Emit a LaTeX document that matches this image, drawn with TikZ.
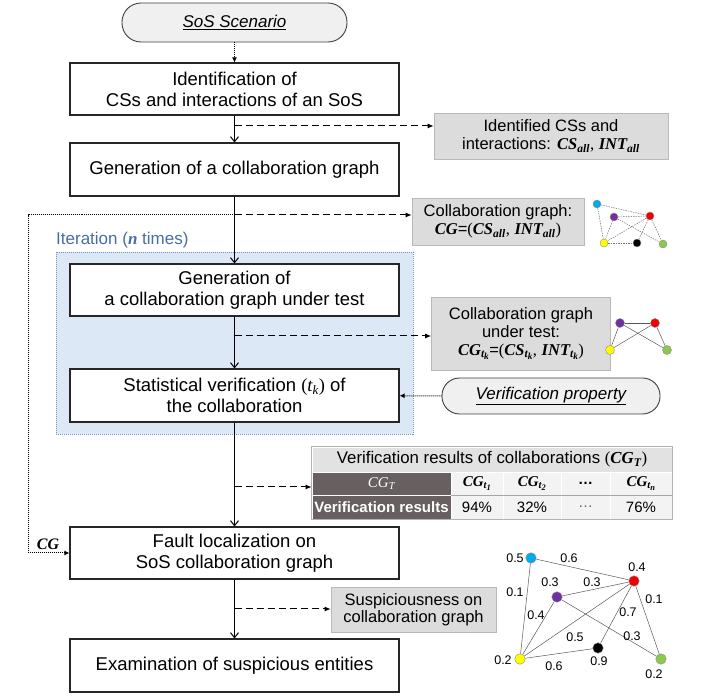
\documentclass[tikz,border=0pt]{standalone}
\usepackage{fontspec}
\usepackage{graphicx}
\setmainfont{Liberation Sans}
\newfontfamily\varfont{Liberation Serif}
\newcommand{\bv}[2]{{\varfont\bfseries\itshape #1\textsubscript{#2}}}
\newcommand{\iv}[2]{{\varfont\itshape #1\textsubscript{#2}}}
\newcommand{\ssub}[1]{\raisebox{-0.4ex}{\scalebox{0.8}{#1}}}
\usetikzlibrary{arrows.meta,calc}
\definecolor{regfill}{RGB}{221,232,246}
\definecolor{regdraw}{RGB}{110,150,205}
\definecolor{itercol}{RGB}{70,110,165}
\definecolor{boxfill}{RGB}{220,220,220}
\definecolor{boxdraw}{RGB}{185,185,185}
\definecolor{darkcell}{RGB}{104,96,96}
\definecolor{titlecell}{RGB}{226,226,226}
\definecolor{lightcell}{RGB}{243,243,243}
\definecolor{ncyan}{RGB}{0,170,235}
\definecolor{npurple}{RGB}{112,48,160}
\definecolor{nred}{RGB}{240,0,0}
\definecolor{nyellow}{RGB}{255,255,0}
\definecolor{ngreen}{RGB}{140,200,75}
\tikzset{
  proc/.style={draw=black!85, line width=1.1pt, fill=white, minimum width=329pt, minimum height=52pt, inner sep=0pt, align=center, font=\fontsize{18.5}{21}\selectfont},
  infobox/.style={draw=boxdraw, line width=0.6pt, fill=boxfill, inner sep=0pt, align=center, font=\fontsize{16.5}{18}\selectfont},
  pillbox/.style={draw=black!75, line width=0.9pt, fill=gray!12, inner sep=0pt, font=\fontsize{17}{18}\selectfont\itshape},
  flow/.style={line width=1pt, -{Straight Barb[length=5pt,width=8pt]}},
  outflow/.style={line width=1pt, dash pattern=on 7pt off 4pt, -{Latex[length=6pt,width=5pt]}},
  dotflow/.style={line width=1pt, dash pattern=on 1pt off 1pt, -{Latex[length=5pt,width=5pt]}},
  vtx/.style={circle, draw=black!45, line width=0.4pt, inner sep=0pt, minimum size=#1},
  gedge/.style={draw=black!65, line width=0.5pt},
  gdash/.style={draw=black!55, line width=0.5pt, dash pattern=on 1.5pt off 1pt},
  wlabel/.style={font=\fontsize{12.5}{14}\selectfont, inner sep=0pt},
  cell/.style={draw=white, line width=0.8pt, inner sep=0pt, minimum height=#1, font=\fontsize{15}{16}\selectfont},
}
\begin{document}
\begin{tikzpicture}[x=1pt,y=-1pt]
\useasboundingbox (0,0) rectangle (716,700);

% iteration region
\node[draw=regdraw, line width=0.6pt, dash pattern=on 1pt off 1pt, fill=regfill, minimum width=357pt, minimum height=182pt, inner sep=0pt] (region) at (234.5,343) {};
\node[anchor=west, text=itercol, font=\fontsize{17}{18}\selectfont, inner sep=0pt] (iterlbl) at (56,240) {Iteration ({\varfont\bfseries\itshape n} times)};

% process boxes
\node[pillbox, minimum width=225pt, minimum height=39pt, rounded corners=19pt] (sos) at (234.5,22.5) {\underline{SoS Scenario}};
\node[proc] (b1) at (234.5,89) {Identification of\\CSs and interactions of an SoS};
\node[proc, minimum height=53pt] (b2) at (234.5,169.5) {Generation of a collaboration graph};
\node[proc] (b3) at (234.5,290) {Generation of\\a collaboration graph under test};
\node[proc, minimum height=53pt] (b4) at (234.5,395.5) {Statistical verification {\varfont(}\iv{t}{k}{\varfont)} of\\the collaboration};
\node[proc] (b5) at (234.5,553) {Fault localization on\\SoS collaboration graph};
\node[proc, minimum height=53pt] (b6) at (234.5,665.5) {Examination of suspicious entities};

% outputs
\node[infobox, minimum width=234pt, minimum height=46pt] (idb) at (551,136) {Identified CSs and\\interactions: \bv{CS}{all}{\varfont,} \bv{INT}{all}};
\node[infobox, minimum width=172pt, minimum height=47pt] (cgb) at (498,221.5) {Collaboration graph:\\{\varfont\bfseries\itshape CG}={\varfont(}\bv{CS}{all}{\varfont,} \bv{INT}{all}{\varfont)}};
\node[infobox, minimum width=179pt, minimum height=73pt] (cgtb) at (521,333.5) {Collaboration graph\\under test:\\\bv{CG}{t\ssub{k}}={\varfont(}\bv{CS}{t\ssub{k}}{\varfont,} \bv{INT}{t\ssub{k}}{\varfont)}};
\node[pillbox, minimum width=218pt, minimum height=36pt, rounded corners=17.5pt] (vp) at (551,396) {\underline{Verification property}};
\node[infobox, minimum width=165pt, minimum height=45pt, font=\fontsize{16.5}{16.5}\selectfont] (susp) at (413.5,609.5) {Suspiciousness on\\collaboration graph};

% table
\node[cell=25pt, minimum width=360pt, fill=titlecell, font=\fontsize{16.8}{18}\selectfont] (tt) at (492,459.5) {Verification results of collaborations {\varfont(}\bv{CG}{T}{\varfont)}};
\node[cell=23pt, minimum width=139pt, fill=darkcell, text=white] (h0) at (381.5,483.5) {\iv{CG}{T}};
\node[cell=23pt, minimum width=52pt, fill=lightcell] (h1) at (477,483.5) {\bv{CG}{t\ssub{1}}};
\node[cell=23pt, minimum width=58pt, fill=lightcell] (h2) at (532,483.5) {\bv{CG}{t\ssub{2}}};
\node[cell=23pt, minimum width=49pt, fill=lightcell] (h3) at (585.5,483.5) {\textbf{\dots}};
\node[cell=23pt, minimum width=62pt, fill=lightcell] (h4) at (641,483.5) {\bv{CG}{t\ssub{n}}};
\node[cell=24pt, minimum width=139pt, fill=darkcell, text=white, font=\fontsize{15}{16}\selectfont\bfseries] (r0) at (381.5,507) {Verification results};
\node[cell=24pt, minimum width=52pt, fill=lightcell] (r1) at (477,507) {94\%};
\node[cell=24pt, minimum width=58pt, fill=lightcell] (r2) at (532,507) {32\%};
\node[cell=24pt, minimum width=49pt, fill=lightcell, text=black!60] (r3) at (585.5,507) {\dots};
\node[cell=24pt, minimum width=62pt, fill=lightcell] (r4) at (641,507) {76\%};
\draw[gray!60, line width=0.6pt] (tt.north west) rectangle (r4.south east);
\draw[gray!70, line width=0.7pt] (h1.south west) -- (h4.south east);

% main flow
\draw[dotflow] (sos) -- (b1);
\draw[flow] (b1) -- (b2);
\draw[flow] (b2) -- (b3);
\draw[flow] (b3) -- (b4);
\draw[flow] (b4) -- (b5);
\draw[flow] (b5) -- (b6);

% output arrows
\coordinate (o1) at (234.5,126);
\coordinate (o2) at (234.5,215);
\coordinate (o3) at (234.5,336);
\coordinate (o4) at (234.5,487);
\coordinate (o5) at (234.5,609);
\draw[outflow] (o1) -- (o1 -| idb.west);
\draw[outflow] (o2) -- (o2 -| cgb.west);
\draw[outflow] (o3) -- (o3 -| cgtb.west);
\draw[outflow] (o4) -- (o4 -| h0.west);
\draw[outflow] (o5) -- (o5 -| susp.west);
\draw[dotflow] (vp) -- (b4);

% feedback
\coordinate (fbc) at (28,215);
\draw[dotflow] (o2) -- (fbc) |- (b5.west);
\node[font=\fontsize{16}{16}\selectfont, inner sep=0pt] (cglbl) at (48,544) {{\varfont\bfseries\itshape CG}};

% graph 1 (dashed)
\node[vtx=8pt, fill=ncyan] (ga) at (597,204) {};
\node[vtx=8pt, fill=npurple] (gb) at (614,217) {};
\node[vtx=8pt, fill=nred] (gc) at (650,216) {};
\node[vtx=8pt, fill=nyellow] (gd) at (604,243) {};
\node[vtx=8pt, fill=black] (ge) at (637,243) {};
\node[vtx=8pt, fill=ngreen] (gf) at (663,244) {};
\foreach \u/\v in {ga/gc, ga/gd, gb/gc, gb/gd, gb/gf, gc/gd, gc/ge, gc/gf, gd/ge}
  \draw[gdash] (\u) -- (\v);

% graph 2
\node[vtx=9pt, fill=npurple] (ha) at (620,323) {};
\node[vtx=9pt, fill=nred] (hb) at (655,323) {};
\node[vtx=9pt, fill=nyellow] (hc) at (610,350) {};
\node[vtx=9pt, fill=ngreen] (hd) at (667,350) {};
\foreach \u/\v in {ha/hb, ha/hc, ha/hd, hb/hc, hb/hd}
  \draw[gedge] (\u) -- (\v);

% graph 3 (suspiciousness)
\node[vtx=10.5pt, fill=ncyan] (ka) at (531,558) {};
\node[vtx=10.5pt, fill=nred] (kc) at (634,581) {};
\node[vtx=10.5pt, fill=npurple] (kb) at (557,597) {};
\node[vtx=10.5pt, fill=black] (ke) at (598,648) {};
\node[vtx=10.5pt, fill=nyellow] (kd) at (520,659) {};
\node[vtx=10.5pt, fill=ngreen] (kf) at (661,659) {};
\foreach \u/\v in {ka/kc, ka/kd, kb/kc, kb/kd, kb/kf, kc/kd, kc/ke, kc/kf, kd/ke}
  \draw[gedge] (\u) -- (\v);
\node[wlabel] (wa) at (515,558) {0.5};
\node[wlabel] (wc) at (637,567) {0.4};
\node[wlabel] (wb) at (550,582) {0.3};
\node[wlabel] (we) at (599,661) {0.9};
\node[wlabel] (wd) at (503,660) {0.2};
\node[wlabel] (wf) at (654,674) {0.2};
\node[wlabel] (eac) at (569,558) {0.6};
\node[wlabel] (ebc) at (592,582) {0.3};
\node[wlabel] (ead) at (515,592) {0.1};
\node[wlabel] (ecf) at (654,599) {0.1};
\node[wlabel] (ebd) at (536,615) {0.4};
\node[wlabel] (ece) at (628,612) {0.7};
\node[wlabel] (ecd) at (575,637) {0.5};
\node[wlabel] (ebf) at (632,636) {0.3};
\node[wlabel] (ede) at (554,666) {0.6};
\end{tikzpicture}
\end{document}
